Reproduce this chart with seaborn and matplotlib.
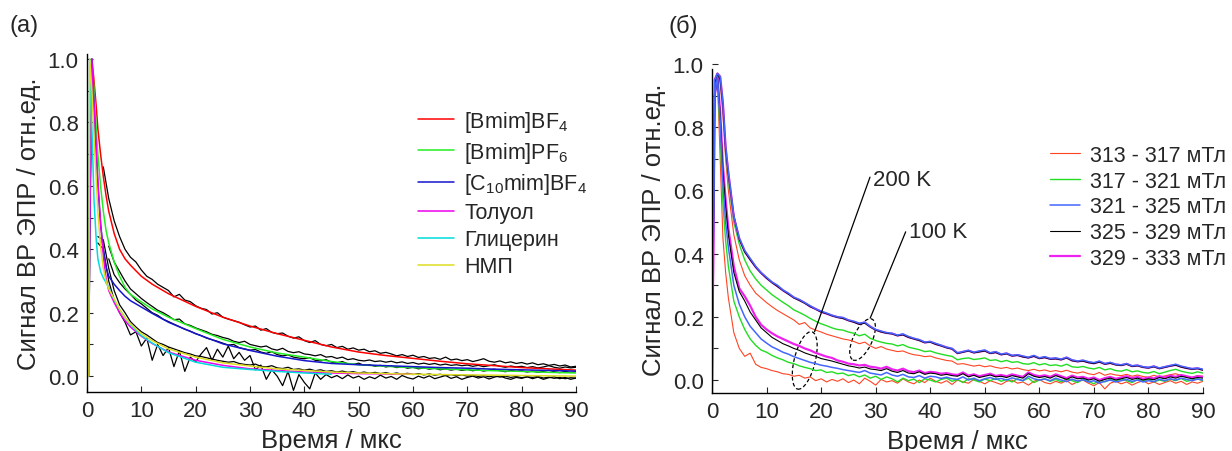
import seaborn as sns
import matplotlib.pyplot as plt
import matplotlib.transforms as mtransforms
from matplotlib.patches import Ellipse
from matplotlib.ticker import MultipleLocator
import pandas as pd, numpy as np

nan = np.nan

## ____ panel (а): fitted curves
t_fit = [0.3, 0.5, 0.9, 1.3, 1.7, 2.0, 2.5, 3.0, 3.5, 4, 5, 6, 7, 8, 10, 12,
         15, 20, 25, 30, 35, 40, 45, 50, 55, 60, 65, 70, 75, 80, 85, 90]
fit_bf4 = [0.0, 0.5, 1.0, 0.93, 0.85, 0.78, 0.70, 0.63, 0.57, 0.52, 0.45, 0.40, 0.37, 0.35, 0.315, 0.29,
           0.26, 0.22, 0.186, 0.158, 0.134, 0.113, 0.092, 0.076, 0.065, 0.056, 0.047, 0.039, 0.033, 0.027, 0.023, 0.019]
fit_pf6 = [0.0, 0.45, 1.0, 0.9, 0.78, 0.70, 0.60, 0.52, 0.46, 0.42, 0.36, 0.315, 0.28, 0.258, 0.234, 0.212,
           0.186, 0.15, 0.116, 0.092, 0.073, 0.06, 0.046, 0.036, 0.031, 0.027, 0.023, 0.02, 0.017, 0.015, 0.012, 0.01]
fit_c10 = [0.0, 0.45, 1.0, 0.85, 0.70, 0.60, 0.48, 0.40, 0.345, 0.315, 0.29, 0.27, 0.252, 0.238, 0.218, 0.198,
           0.17, 0.134, 0.102, 0.081, 0.063, 0.049, 0.04, 0.036, 0.033, 0.03, 0.027, 0.025, 0.022, 0.02, 0.018, 0.016]
fit_tol = [0.0, 0.45, 1.0, 0.85, 0.72, 0.62, 0.48, 0.38, 0.31, 0.27, 0.232, 0.2, 0.175, 0.155, 0.126, 0.103,
           0.076, 0.05, 0.034, 0.023, 0.018, 0.013, 0.01, 0.008, 0.007, 0.006, nan, nan, nan, nan, nan, nan]
fit_gly = [0.0, 1.0, 0.78, 0.55, 0.43, 0.37, 0.33, 0.31, 0.295, 0.28, 0.24, 0.21, 0.185, 0.162, 0.128, 0.104,
           0.074, 0.044, 0.028, 0.021, 0.015, 0.01, 0.006, nan, nan, nan, nan, nan, nan, nan, nan, nan]
fit_nmp = [0.0, 1.0, 0.9, 0.75, 0.62, 0.52, 0.41, 0.34, 0.3, 0.275, 0.244, 0.21, 0.185, 0.165, 0.134, 0.112,
           0.086, 0.06, 0.042, 0.032, 0.023, 0.018, 0.013, 0.01, 0.008, 0.006, 0.005, 0.004, 0.003, 0.002, 0.001, 0.0]
fit_names = ["[Bmim]BF$_4$", "[Bmim]PF$_6$", "[C$_{10}$mim]BF$_4$", "Толуол", "Глицерин", "НМП"]
fit_colors = ["#ff0000", "#22ee22", "#1515cc", "#ee00ee", "#00dddd", "#dddd22"]

## ____ panel (а): measured kinetics (black)
t_exp = list(range(2, 91))
exp_1 = [nan, 0.66, 0.56, 0.49, 0.44, 0.40, 0.375, 0.36, 0.335, 0.315,
         0.305, 0.29, 0.28, 0.27, 0.25, 0.258, 0.24, 0.235, 0.222, 0.214,
         0.21, 0.196, 0.2, 0.186, 0.18, 0.175, 0.17, 0.162, 0.155, 0.158,
         0.145, 0.15, 0.138, 0.134, 0.136, 0.126, 0.12, 0.124, 0.112, 0.106,
         0.112, 0.1, 0.096, 0.1, 0.09, 0.094, 0.085, 0.089, 0.082, 0.085,
         0.077, 0.08, 0.072, 0.075, 0.07, 0.064, 0.068, 0.062, 0.066, 0.059,
         0.062, 0.056, 0.058, 0.053, 0.06, 0.051, 0.054, 0.049, 0.052, 0.046,
         0.05, 0.055, 0.047, 0.044, 0.048, 0.042, 0.045, 0.04, 0.043, 0.038,
         0.042, 0.036, 0.039, 0.034, 0.037, 0.032, 0.035, 0.029, 0.031]
exp_2 = [nan, nan, 0.41, 0.36, 0.33, 0.3, 0.275, 0.26, 0.245, 0.232,
         0.22, 0.208, 0.2, 0.19, 0.178, 0.18, 0.165, 0.16, 0.152, 0.146,
         0.14, 0.132, 0.128, 0.122, 0.118, 0.11, 0.106, 0.11, 0.1, 0.096,
         0.092, 0.095, 0.086, 0.082, 0.088, 0.078, 0.074, 0.077, 0.07, 0.068,
         0.064, 0.068, 0.06, 0.062, 0.056, 0.06, 0.052, 0.055, 0.05, 0.048,
         0.051, 0.046, 0.048, 0.044, 0.047, 0.042, 0.045, 0.04, 0.043, 0.038,
         0.041, 0.037, 0.04, 0.035, 0.038, 0.034, 0.036, 0.033, 0.035, 0.031,
         0.034, 0.03, 0.033, 0.036, 0.031, 0.028, 0.032, 0.029, 0.031, 0.027,
         0.03, 0.026, 0.029, 0.033, 0.028, 0.025, 0.029, 0.026, 0.028]
exp_3 = [nan, nan, 0.37, 0.32, 0.295, 0.275, 0.258, 0.24, 0.228, 0.214,
         0.2, 0.192, 0.18, 0.172, 0.164, 0.156, 0.148, 0.142, 0.134, 0.128,
         0.12, 0.115, 0.11, 0.104, 0.098, 0.1, 0.09, 0.086, 0.082, 0.084,
         0.076, 0.072, 0.077, 0.068, 0.064, 0.067, 0.06, 0.057, 0.055, 0.058,
         0.05, 0.048, 0.052, 0.044, 0.042, 0.046, 0.039, 0.037, 0.041, 0.034,
         0.036, 0.031, 0.034, 0.029, 0.032, 0.027, 0.03, 0.025, 0.028, 0.023,
         0.026, 0.022, 0.025, 0.02, 0.023, 0.019, 0.022, 0.018, 0.021, 0.017,
         0.02, 0.016, 0.019, 0.022, 0.017, 0.014, 0.018, 0.015, 0.017, 0.013,
         0.016, 0.012, 0.015, 0.019, 0.014, 0.011, 0.015, 0.012, 0.014]
exp_4 = [0.42, 0.40, 0.3, 0.24, 0.2, 0.17, 0.13, 0.14, 0.095, 0.12,
         0.05, 0.1, 0.065, 0.09, 0.03, 0.08, 0.015, 0.06, 0.045, 0.07,
         0.09, 0.05, 0.085, 0.06, 0.095, 0.055, 0.075, 0.05, 0.065, 0.02,
         0.035, -0.01, 0.02, 0.0, -0.03, 0.015, -0.045, 0.005, -0.02, -0.04,
         0.01, -0.01, 0.005, -0.005, 0.002, -0.008, 0.004, -0.006, 0.0, -0.01,
         -0.002, -0.008, 0.003, -0.006, -0.001, -0.01, 0.002, -0.005, -0.009, 0.0,
         -0.006, 0.001, -0.008, -0.003, 0.002, -0.007, -0.002, -0.01, -0.004, 0.0,
         -0.006, -0.002, -0.009, -0.003, 0.001, -0.006, -0.01, -0.004, -0.007, -0.002,
         -0.008, -0.003, -0.01, -0.005, -0.002, -0.008, -0.004, -0.01, -0.006]
exp_5 = [0.44, 0.43, 0.34, 0.27, 0.225, 0.2, 0.172, 0.155, 0.14, 0.13,
         0.118, 0.106, 0.1, 0.092, 0.086, 0.08, 0.074, 0.07, 0.064, 0.062,
         0.058, 0.054, 0.05, 0.047, 0.044, 0.046, 0.04, 0.037, 0.035, 0.038,
         0.031, 0.029, 0.033, 0.026, 0.024, 0.028, 0.021, 0.023, 0.019, 0.022,
         0.017, 0.02, 0.015, 0.017, 0.013, 0.016, 0.012, 0.014, 0.01, 0.013,
         0.009, 0.012, 0.008, 0.011, 0.007, 0.01, 0.006, 0.009, 0.005, 0.008,
         0.004, 0.007, 0.003, 0.006, 0.002, 0.005, 0.001, 0.004, 0.0, 0.003,
         -0.001, 0.002, -0.002, 0.001, -0.003, 0.0, -0.004, -0.001, -0.005, -0.002,
         -0.004, -0.001, -0.006, -0.003, -0.007, -0.004, -0.008, -0.005, -0.006]

## ____ panel (б): kinetics at two temperatures, five field windows
t_r = [0, 0.5, 1, 1.5, 2, 2.5] + list(range(3, 91))
fields = ["313 - 317 мТл", "317 - 321 мТл", "321 - 325 мТл", "325 - 329 мТл", "329 - 333 мТл"]
field_colors = ["#ff4422", "#22dd22", "#4466ff", "#000000", "#ee22ee"]
field_widths = [0.8, 1.0, 1.1, 0.8, 1.6]

hi_313 = [0.03, 0.95, 0.97, 0.94, 0.84, 0.70,
          0.60, 0.46, 0.38, 0.33, 0.30, 0.275, 0.26, 0.245, 0.232, 0.22,
          0.21, 0.20, 0.19, 0.176, 0.182, 0.165, 0.158, 0.152, 0.145, 0.14,
          0.135, 0.13, 0.127, 0.122, 0.115, 0.12, 0.108, 0.10, 0.106, 0.098,
          0.094, 0.09, 0.092, 0.085, 0.08, 0.078, 0.074, 0.076, 0.07, 0.066,
          0.062, 0.06, 0.05, 0.052, 0.048, 0.044, 0.047, 0.042, 0.045, 0.04,
          0.037, 0.04, 0.035, 0.038, 0.033, 0.03, 0.034, 0.029, 0.032, 0.027,
          0.03, 0.026, 0.031, 0.025, 0.022, 0.026, 0.02, 0.017, 0.024, 0.015,
          0.02, 0.016, 0.014, 0.018, 0.012, 0.016, 0.011, 0.009, 0.015, 0.01,
          0.013, 0.017, 0.02, 0.014, 0.011, 0.008, 0.014, 0.012]
hi_317 = [0.0, 0.95, 0.97, 0.95, 0.86, 0.72,
          0.63, 0.5, 0.43, 0.38, 0.345, 0.32, 0.3, 0.285, 0.27, 0.258,
          0.246, 0.235, 0.222, 0.214, 0.205, 0.195, 0.186, 0.178, 0.172, 0.165,
          0.16, 0.158, 0.152, 0.148, 0.14, 0.145, 0.132, 0.125, 0.12, 0.116,
          0.114, 0.108, 0.112, 0.104, 0.1, 0.096, 0.09, 0.092, 0.086, 0.082,
          0.078, 0.075, 0.064, 0.068, 0.07, 0.065, 0.067, 0.07, 0.062, 0.064,
          0.058, 0.062, 0.056, 0.058, 0.052, 0.05, 0.055, 0.048, 0.052, 0.046,
          0.048, 0.044, 0.05, 0.042, 0.04, 0.043, 0.038, 0.035, 0.04, 0.032,
          0.036, 0.03, 0.028, 0.033, 0.026, 0.029, 0.024, 0.022, 0.027, 0.02,
          0.025, 0.03, 0.034, 0.028, 0.024, 0.021, 0.026, 0.022]
hi_321 = [0.01, 0.95, 0.97, 0.96, 0.88, 0.74,
          0.66, 0.52, 0.45, 0.41, 0.385, 0.36, 0.34, 0.325, 0.31, 0.30,
          0.285, 0.275, 0.262, 0.255, 0.245, 0.235, 0.225, 0.218, 0.212, 0.205,
          0.2, 0.198, 0.19, 0.186, 0.18, 0.183, 0.17, 0.16, 0.155, 0.15,
          0.148, 0.142, 0.146, 0.138, 0.132, 0.128, 0.12, 0.122, 0.116, 0.11,
          0.104, 0.1, 0.086, 0.09, 0.094, 0.088, 0.092, 0.095, 0.086, 0.09,
          0.082, 0.085, 0.078, 0.08, 0.076, 0.072, 0.078, 0.07, 0.074, 0.068,
          0.07, 0.066, 0.072, 0.064, 0.06, 0.063, 0.058, 0.055, 0.06, 0.052,
          0.056, 0.05, 0.048, 0.052, 0.045, 0.047, 0.042, 0.04, 0.044, 0.038,
          0.042, 0.046, 0.05, 0.044, 0.04, 0.036, 0.038, 0.034]
hi_325 = [0.0, 0.94, 0.97, 0.95, 0.87, 0.73,
          0.65, 0.52, 0.445, 0.405, 0.38, 0.357, 0.338, 0.322, 0.308, 0.296,
          0.283, 0.272, 0.26, 0.252, 0.243, 0.232, 0.224, 0.215, 0.21, 0.203,
          0.198, 0.195, 0.188, 0.183, 0.176, 0.18, 0.168, 0.158, 0.152, 0.148,
          0.146, 0.14, 0.143, 0.135, 0.13, 0.125, 0.118, 0.12, 0.113, 0.108,
          0.102, 0.098, 0.084, 0.088, 0.092, 0.086, 0.089, 0.092, 0.084, 0.087,
          0.08, 0.083, 0.076, 0.078, 0.073, 0.07, 0.075, 0.068, 0.071, 0.066,
          0.067, 0.064, 0.07, 0.061, 0.058, 0.06, 0.055, 0.052, 0.057, 0.05,
          0.053, 0.048, 0.046, 0.05, 0.043, 0.045, 0.04, 0.038, 0.042, 0.036,
          0.04, 0.044, 0.047, 0.041, 0.037, 0.034, 0.036, 0.031]
hi_329 = [-0.02, 0.95, 0.97, 0.96, 0.875, 0.735,
          0.655, 0.515, 0.447, 0.407, 0.382, 0.358, 0.339, 0.323, 0.309, 0.297,
          0.284, 0.273, 0.261, 0.253, 0.244, 0.233, 0.225, 0.216, 0.21, 0.204,
          0.199, 0.196, 0.189, 0.184, 0.178, 0.182, 0.169, 0.159, 0.153, 0.149,
          0.147, 0.141, 0.144, 0.136, 0.131, 0.126, 0.119, 0.121, 0.114, 0.109,
          0.103, 0.099, 0.085, 0.089, 0.093, 0.087, 0.09, 0.093, 0.085, 0.088,
          0.081, 0.084, 0.077, 0.079, 0.074, 0.071, 0.076, 0.069, 0.072, 0.067,
          0.068, 0.065, 0.071, 0.062, 0.059, 0.061, 0.056, 0.053, 0.058, 0.051,
          0.054, 0.049, 0.047, 0.051, 0.044, 0.046, 0.041, 0.039, 0.043, 0.037,
          0.041, 0.045, 0.048, 0.042, 0.038, 0.035, 0.037, 0.032]

lo_313 = [0.03, 0.9, 0.95, 0.7, 0.45, 0.34,
          0.26, 0.15, 0.1, 0.075, 0.085, 0.05, 0.04, 0.036, 0.03, 0.026,
          0.02, 0.018, 0.012, 0.015, 0.006, 0.01, -0.002, 0.004, -0.006, 0.002,
          -0.004, 0.004, -0.008, 0.0, -0.012, 0.006, -0.004, -0.016, 0.002, -0.006,
          -0.002, -0.01, 0.004, -0.006, -0.012, 0.0, -0.008, 0.006, -0.004, -0.01,
          -0.002, -0.014, 0.0, -0.006, -0.01, 0.002, -0.004, -0.012, -0.002, -0.008,
          -0.014, -0.004, 0.0, -0.01, -0.006, -0.016, -0.004, 0.002, -0.008, -0.012,
          -0.004, -0.01, -0.002, -0.014, -0.006, 0.0, -0.01, -0.018, -0.008, -0.028,
          -0.01, -0.004, -0.012, -0.006, -0.016, -0.008, -0.002, -0.012, -0.006, -0.014,
          -0.008, -0.002, -0.01, -0.004, -0.014, -0.006, -0.01, -0.004]
lo_317 = [0.0, 0.9, 0.95, 0.78, 0.56, 0.44,
          0.36, 0.25, 0.2, 0.16, 0.13, 0.11, 0.095, 0.088, 0.078, 0.07,
          0.064, 0.056, 0.052, 0.045, 0.04, 0.036, 0.03, 0.032, 0.024, 0.026,
          0.02, 0.022, 0.014, 0.018, 0.01, 0.016, 0.006, 0.012, 0.002, 0.01,
          0.004, -0.006, 0.006, -0.002, 0.003, -0.008, 0.004, 0.0, -0.006, 0.002,
          0.006, -0.004, 0.002, -0.008, 0.004, 0.0, -0.006, 0.003, -0.002, 0.005,
          -0.004, 0.002, -0.006, 0.004, -0.002, 0.006, -0.008, 0.0, 0.004, -0.004,
          0.002, -0.006, 0.004, -0.002, -0.008, 0.003, -0.004, -0.012, 0.0, -0.006,
          0.002, -0.004, 0.004, -0.002, -0.008, 0.002, -0.004, 0.003, -0.006, 0.0,
          -0.004, 0.003, -0.002, 0.005, -0.004, 0.0, 0.004, -0.002]
lo_321 = [0.0, 0.9, 0.96, 0.82, 0.62, 0.5,
          0.42, 0.3, 0.24, 0.2, 0.17, 0.15, 0.13, 0.117, 0.105, 0.097,
          0.088, 0.082, 0.074, 0.068, 0.062, 0.056, 0.052, 0.047, 0.044, 0.04,
          0.037, 0.033, 0.03, 0.027, 0.024, 0.03, 0.022, 0.019, 0.016, 0.024,
          0.016, 0.012, 0.018, 0.01, 0.008, 0.014, 0.006, 0.012, 0.01, 0.005,
          0.009, 0.004, 0.002, 0.01, 0.0, 0.006, -0.002, 0.004, 0.008, 0.002,
          0.005, 0.0, 0.007, 0.002, -0.002, 0.012, 0.004, 0.0, 0.003, -0.002,
          0.006, 0.0, -0.005, 0.003, -0.003, 0.001, -0.006, -0.002, -0.01, -0.004,
          0.0, -0.006, -0.002, 0.002, -0.004, 0.0, -0.006, -0.002, -0.005, 0.003,
          -0.002, 0.004, 0.0, 0.006, 0.002, -0.002, 0.003, 0.0]
lo_325 = [0.01, 0.9, 0.96, 0.84, 0.66, 0.55,
          0.46, 0.34, 0.28, 0.25, 0.215, 0.19, 0.165, 0.15, 0.135, 0.125,
          0.115, 0.108, 0.1, 0.094, 0.086, 0.08, 0.075, 0.068, 0.064, 0.06,
          0.055, 0.05, 0.045, 0.042, 0.038, 0.041, 0.035, 0.033, 0.03, 0.036,
          0.028, 0.024, 0.03, 0.022, 0.02, 0.026, 0.018, 0.022, 0.02, 0.015,
          0.018, 0.014, 0.012, 0.02, 0.01, 0.015, 0.008, 0.012, 0.016, 0.01,
          0.012, 0.008, 0.014, 0.01, 0.006, 0.02, 0.012, 0.008, 0.011, 0.006,
          0.014, 0.008, 0.002, 0.01, 0.004, 0.006, 0.0, 0.004, -0.004, 0.002,
          0.006, 0.0, 0.004, 0.008, 0.002, 0.006, 0.0, 0.004, 0.001, 0.008,
          0.004, 0.01, 0.006, 0.012, 0.008, 0.004, 0.008, 0.006]
lo_329 = [-0.04, 0.9, 0.96, 0.85, 0.68, 0.57,
          0.48, 0.36, 0.29, 0.265, 0.235, 0.2, 0.175, 0.16, 0.148, 0.138,
          0.13, 0.122, 0.114, 0.108, 0.1, 0.094, 0.086, 0.08, 0.074, 0.07,
          0.062, 0.058, 0.052, 0.05, 0.046, 0.048, 0.042, 0.04, 0.036, 0.042,
          0.034, 0.03, 0.036, 0.028, 0.025, 0.03, 0.022, 0.026, 0.024, 0.02,
          0.022, 0.018, 0.016, 0.024, 0.014, 0.018, 0.012, 0.016, 0.02, 0.013,
          0.016, 0.012, 0.018, 0.014, 0.01, 0.024, 0.016, 0.012, 0.015, 0.01,
          0.018, 0.012, 0.006, 0.014, 0.008, 0.01, 0.004, 0.008, 0.0, 0.006,
          0.01, 0.004, 0.008, 0.012, 0.006, 0.01, 0.004, 0.008, 0.005, 0.012,
          0.008, 0.014, 0.01, 0.016, 0.012, 0.008, 0.012, 0.01]


## ____ style
sns.set_theme(style="ticks")
plt.rcParams["font.family"] = ["Liberation Sans", "DejaVu Sans"]
plt.rcParams["mathtext.fontset"] = "custom"
plt.rcParams["mathtext.rm"] = "Liberation Sans"
plt.rcParams["mathtext.default"] = "regular"

fig = plt.figure(figsize=(12.32, 4.52), dpi=100)
ax1 = fig.add_axes([87 / 1232, 59 / 452, 489 / 1232, 338 / 452])
ax2 = fig.add_axes([712 / 1232, 58 / 452, 491 / 1232, 329 / 452])

## ____ (а)
fits = pd.concat([pd.DataFrame({"t": t_fit, "v": v, "name": n})
                  for n, v in zip(fit_names, [fit_bf4, fit_pf6, fit_c10, fit_tol, fit_gly, fit_nmp])]).dropna()
exps = pd.concat([pd.DataFrame({"t": t_exp, "v": v, "run": i})
                  for i, v in enumerate([exp_1, exp_2, exp_3, exp_4, exp_5])]).dropna()

sns.lineplot(data=exps, x="t", y="v", units="run", estimator=None, sort=False,
             color="black", lw=0.9, legend=False, ax=ax1)
sns.lineplot(data=fits, x="t", y="v", hue="name", hue_order=fit_names, palette=fit_colors,
             estimator=None, sort=False, lw=1.1, ax=ax1)

leg = ax1.get_legend()
h1 = {t.get_text(): h for t, h in zip(leg.get_texts(), leg.legend_handles)}
ax1.legend([h1[n] for n in fit_names], fit_names, loc="upper left",
           bbox_to_anchor=(418 / 1232, 1 - 110 / 452), bbox_transform=fig.transFigure,
           frameon=False, fontsize=15.5, handlelength=1.65, handletextpad=0.5,
           labelspacing=0.28, borderpad=0, borderaxespad=0)

ax1.set_ylim(-0.05, 1.016)

## ____ (б)
draw_order = [fields[0], fields[1], fields[4], fields[3], fields[2]]
parts = []
for f, a, b in zip(fields, [hi_313, hi_317, hi_321, hi_325, hi_329],
                   [lo_313, lo_317, lo_321, lo_325, lo_329]):
    parts.append(pd.DataFrame({"t": t_r, "v": a, "field": f, "T": "100 K"}))
    parts.append(pd.DataFrame({"t": t_r, "v": b, "field": f, "T": "200 K"}))
kin = pd.concat(parts, ignore_index=True)

sns.lineplot(data=kin, x="t", y="v", hue="field", size="field", units="T",
             hue_order=draw_order, size_order=draw_order,
             palette=dict(zip(fields, field_colors)), sizes=dict(zip(fields, field_widths)),
             estimator=None, sort=False, ax=ax2)

leg = ax2.get_legend()
h2 = {t.get_text(): h for t, h in zip(leg.get_texts(), leg.legend_handles)}
ax2.legend([h2[f] for f in fields], fields, loc="upper left",
           bbox_to_anchor=(1050 / 1232, 1 - 146 / 452), bbox_transform=fig.transFigure,
           frameon=False, fontsize=15.5, handlelength=1.4, handletextpad=0.45,
           labelspacing=0.22, borderpad=0, borderaxespad=0)

ax2.set_ylim(-0.041, 1.0)

# dashed ovals and leader lines marking the temperature groups
for (cx, cy), w, h, ang in [((17, 0.062), 0.21, 0.59, -14), ((27.6, 0.128), 0.19, 0.45, -25)]:
    tr = fig.dpi_scale_trans + mtransforms.ScaledTranslation(cx, cy, ax2.transData)
    ax2.add_patch(Ellipse((0, 0), w, h, angle=ang, transform=tr, fill=False,
                          ls=(0, (3, 2)), lw=0.9, ec="black"))
ax2.plot([18.8, 28.96], [0.153, 0.642], color="black", lw=0.9)
ax2.plot([29.0, 35.5], [0.196, 0.469], color="black", lw=0.9)
ax2.text(29.6, 0.635, "200 K", fontsize=16, va="center", ha="left")
ax2.text(36.2, 0.47, "100 K", fontsize=16, va="center", ha="left")

## ____ axes
for ax in (ax1, ax2):
    ax.set_xlim(0, 90)
    ax.xaxis.set_major_locator(MultipleLocator(10))
    ax.yaxis.set_major_locator(MultipleLocator(0.2))
    ax.yaxis.set_minor_locator(MultipleLocator(0.1))
    ax.tick_params(which="both", direction="in", length=4, width=0.8, labelsize=16, pad=6)
    ax.set_xlabel("Время / мкс", fontsize=18.5, labelpad=5)
    ax.set_ylabel("Сигнал ВР ЭПР / отн.ед.", fontsize=18.5, labelpad=5)
    sns.despine(ax=ax)
    for s in ("left", "bottom"):
        ax.spines[s].set_linewidth(1.0)
        ax.spines[s].set_color("black")
ax2.spines["left"].set_bounds(-0.041, 0.984)

fig.text(10 / 1232, 1 - 26 / 452, "(а)", fontsize=17, va="center")
fig.text(668 / 1232, 1 - 26 / 452, "(б)", fontsize=17, va="center")

plt.savefig("out.png", dpi=100)
